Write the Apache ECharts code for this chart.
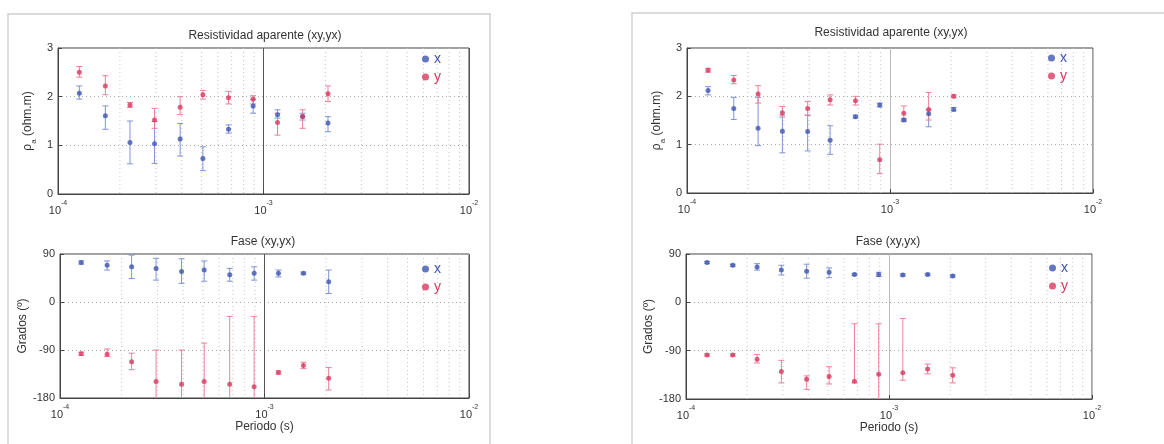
<!DOCTYPE html>
<html>
<head>
<meta charset="utf-8">
<script src="https://cdn.jsdelivr.net/npm/echarts@6/dist/echarts.min.js"></script>
<style>html,body{margin:0;padding:0;background:#fff}#c{width:1164px;height:444px}</style>
</head>
<body>
<div id="c"></div>
<script>
// ---- data ----
const periods = [1.27e-4, 1.70e-4, 2.24e-4, 2.95e-4, 3.93e-4, 5.07e-4, 6.76e-4, 8.9e-4, 1.17e-3, 1.55e-3, 2.06e-3];
const minorGrid = [2e-4,3e-4,4e-4,5e-4,6e-4,7e-4,8e-4,9e-4,2e-3,3e-3,4e-3,5e-3,6e-3,7e-3,8e-3,9e-3];
const rhoTicks = [0, 1, 2, 3];
const phaseTicks = [-180, -90, 0, 90];

// Left station: apparent resistivity
const rhoXL = [2.07, 1.61, 1.06, 1.03, 1.13, 0.73, 1.33, 1.81, 1.63, 1.59, 1.46];
const rhoXLerr = [[1.95,2.22],[1.33,1.81],[0.62,1.50],[0.63,1.49],[0.78,1.45],[0.48,0.97],[1.25,1.42],[1.66,1.94],[1.56,1.73],[1.52,1.66],[1.28,1.59]];
const rhoYL = [2.50, 2.22, 1.83, 1.52, 1.78, 2.04, 1.98, 1.95, 1.47, 1.59, 2.06];
const rhoYLerr = [[2.40,2.62],[2.04,2.43],[1.78,1.88],[1.35,1.76],[1.63,2.00],[1.95,2.13],[1.85,2.11],[1.85,2.02],[1.21,1.66],[1.35,1.73],[1.90,2.22]];
// Right station: apparent resistivity
const rhoXR = [2.12, 1.75, 1.34, 1.28, 1.27, 1.09, 1.58, 1.82, 1.51, 1.64, 1.73];
const rhoXRerr = [[2.03,2.20],[1.52,1.98],[0.98,1.98],[0.83,1.61],[0.87,1.61],[0.80,1.39],[1.55,1.61],[1.78,1.86],[1.48,1.54],[1.37,1.72],[1.70,1.77]];
const rhoYR = [2.54, 2.34, 2.05, 1.66, 1.75, 1.93, 1.91, 0.69, 1.65, 1.73, 2.00];
const rhoYRerr = [[2.50,2.58],[2.26,2.43],[1.86,2.22],[1.57,1.79],[1.61,1.89],[1.82,2.03],[1.82,2.00],[0.40,1.01],[1.51,1.80],[1.51,2.08],[1.97,2.03]];
// Left station: phase
const phXL = [74, 69, 66, 63, 57, 60, 51, 54, 54, 54, 38];
const phXLerr = [[71,77],[60,77],[44,88],[41,82],[35,81],[39,77],[39,63],[41,66],[47,60],[52,56],[16,60]];
const phYL = [-97, -98, -112, -149, -154, -149, -154, -159, -132, -119, -143];
const phYLerr = [[-100,-94],[-102,-88],[-127,-96],[-185,-90],[-185,-90],[-185,-77],[-185,-27],[-185,-27],[-135,-129],[-125,-113],[-165,-123]];
// Right station: phase
const phXR = [74, 69, 66, 60, 58, 56, 52, 52, 51, 52, 49];
const phXRerr = [[72,76],[67,71],[60,72],[51,69],[45,71],[46,64],[50,54],[48,56],[49,53],[50,54],[47,51]];
const phYR = [-98, -98, -106, -129, -143, -138, -147, -134, -131, -124, -136];
const phYRerr = [[-100,-96],[-100,-96],[-113,-97],[-150,-108],[-162,-137],[-152,-120],[-150,-40],[-185,-40],[-145,-30],[-133,-115],[-150,-122]];

// ---- styling ----
const FONT = '"Liberation Sans", Arial, sans-serif';
const BLUE = '#3d55b0', RED = '#d9375f';
const BLUE_E = '#7f93d6', RED_E = '#ec7f98';

const panels = [
  {left:58,  top:48,  width:411, height:146, x:rhoXL, xe:rhoXLerr, y:rhoYL, ye:rhoYLerr, kind:'rho', split:'#555', title:'Resistividad aparente (xy,yx)', tx:265, ty:30, lx:422, ly:52},
  {left:687, top:48,  width:406, height:145, x:rhoXR, xe:rhoXRerr, y:rhoYR, ye:rhoYRerr, kind:'rho', split:'#bbb', title:'Resistividad aparente (xy,yx)', tx:891, ty:27, lx:1048, ly:51},
  {left:60,  top:254, width:409, height:144, x:phXL, xe:phXLerr, y:phYL, ye:phYLerr, kind:'ph', split:'#555', title:'Fase (xy,yx)', tx:263, ty:236, lx:422, ly:262},
  {left:686, top:254, width:406, height:145, x:phXR, xe:phXRerr, y:phYR, ye:phYRerr, kind:'ph', split:'#bbb', title:'Fase (xy,yx)', tx:888, ty:236, lx:1049, ly:261}
];

function errRenderer(color) {
  return function (params, api) {
    const x = api.value(0), lo = api.value(1), hi = api.value(2);
    const a = api.coord([x, hi]), b = api.coord([x, lo]);
    const w = 3;
    const st = {stroke: color, lineWidth: 1};
    return {type:'group', children:[
      {type:'line', shape:{x1:a[0], y1:a[1], x2:b[0], y2:b[1]}, style:st},
      {type:'line', shape:{x1:a[0]-w, y1:a[1], x2:a[0]+w, y2:a[1]}, style:st},
      {type:'line', shape:{x1:b[0]-w, y1:b[1], x2:b[0]+w, y2:b[1]}, style:st}
    ]};
  };
}

function minorRenderer(ymin, ymax) {
  return function (params, api) {
    const v = api.value(0);
    const a = api.coord([v, ymax]), b = api.coord([v, ymin]);
    return {type:'line', shape:{x1:a[0], y1:a[1], x2:b[0], y2:b[1]},
      style:{stroke:'#c4c4c4', lineWidth:1, lineDash:[1,3]}};
  };
}

const grids = [], xAxes = [], yAxes = [], series = [], legends = [], graphics = [];

// panel frames (scanned figure borders)
graphics.push({type:'rect', shape:{x:8, y:14, width:482, height:440}, style:{fill:'none', stroke:'#cfcfcf', lineWidth:1.5}, silent:true});
graphics.push({type:'rect', shape:{x:632, y:13, width:540, height:440}, style:{fill:'none', stroke:'#cfcfcf', lineWidth:1.5}, silent:true});

panels.forEach((p, i) => {
  grids.push({left:p.left, top:p.top, width:p.width, height:p.height, show:true, borderColor:'#444', borderWidth:1});
  const isBottom = p.kind === 'ph';
  xAxes.push({
    type:'log', logBase:10, min:1e-4, max:1e-2, gridIndex:i,
    axisLine:{show:true, onZero:false, lineStyle:{color:'#444'}},
    axisTick:{show:true, inside:true, length:4, lineStyle:{color:'#444'}},
    splitLine:{show:true, lineStyle:{color:p.split, type:'solid', width:1}},
    axisLabel:{
      margin:6, color:'#333', fontFamily:FONT,
      formatter: v => '{b|10}{s|' + Math.round(Math.log10(v)) + '}',
      rich:{b:{fontSize:11, lineHeight:16, verticalAlign:'bottom', fontFamily:FONT, color:'#333'},
            s:{fontSize:7, lineHeight:16, verticalAlign:'top', fontFamily:FONT, color:'#333'}}
    },
    name: isBottom ? 'Periodo (s)' : '',
    nameLocation:'middle', nameGap:20,
    nameTextStyle:{fontSize:12, color:'#333', fontFamily:FONT}
  });
  const ticks = p.kind === 'rho' ? rhoTicks : phaseTicks;
  const ymin = ticks[0], ymax = ticks[ticks.length-1];
  yAxes.push({
    type:'value', gridIndex:i,
    min: ymin, max: ymax, interval: ticks[1]-ticks[0],
    axisLine:{show:true, lineStyle:{color:'#444'}},
    axisTick:{show:true, inside:true, length:4, lineStyle:{color:'#444'}},
    splitLine:{show:true, lineStyle:{color:'#aaa', type:[1,3], width:1}},
    axisLabel:{fontSize:11, color:'#333', margin:5, fontFamily:FONT},
    name: p.kind === 'rho' ? '{r|ρ}{sub|a}{r| (ohm.m)}' : 'Grados (º)',
    nameLocation:'middle', nameGap: p.kind === 'rho' ? 20 : 24,
    nameTextStyle:{fontSize:12, color:'#333', fontFamily:FONT,
      rich:{r:{fontSize:12, color:'#333', fontFamily:FONT, lineHeight:16, verticalAlign:'top'},
            sub:{fontSize:8, color:'#333', fontFamily:FONT, lineHeight:16, verticalAlign:'bottom'}}}
  });
  // minor log grid lines
  series.push({
    type:'custom', name:'minor', xAxisIndex:i, yAxisIndex:i, silent:true, z:1,
    renderItem: minorRenderer(ymin, ymax), encode:{x:0},
    data: minorGrid.map(v => [v])
  });
  series.push({
    type:'custom', name:'xErr', xAxisIndex:i, yAxisIndex:i, clip:true, silent:true,
    renderItem: errRenderer(BLUE_E), encode:{x:0, y:[1,2]},
    data: periods.map((t,k) => [t, p.xe[k][0], p.xe[k][1]]), z:3
  });
  series.push({
    type:'custom', name:'yErr', xAxisIndex:i, yAxisIndex:i, clip:true, silent:true,
    renderItem: errRenderer(RED_E), encode:{x:0, y:[1,2]},
    data: periods.map((t,k) => [t, p.ye[k][0], p.ye[k][1]]), z:3
  });
  series.push({
    type:'scatter', name:'x', xAxisIndex:i, yAxisIndex:i, symbol:'circle', symbolSize:5,
    itemStyle:{color:BLUE}, data: periods.map((t,k) => [t, p.x[k]]), z:4
  });
  series.push({
    type:'scatter', name:'y', xAxisIndex:i, yAxisIndex:i, symbol:'circle', symbolSize:5,
    itemStyle:{color:RED}, data: periods.map((t,k) => [t, p.y[k]]), z:4
  });
  legends.push({
    left:p.lx, top:p.ly, orient:'vertical', icon:'circle', itemWidth:7, itemHeight:7, itemGap:4,
    selectedMode:false, padding:0,
    textStyle:{fontSize:14, fontFamily:FONT},
    data:[{name:'x', textStyle:{color:BLUE}}, {name:'y', textStyle:{color:RED}}]
  });
  graphics.push({type:'text', x:p.tx, y:p.ty, silent:true,
    style:{text:p.title, align:'center', textAlign:'center', verticalAlign:'top', fontSize:12, fill:'#333', fontFamily:FONT}});
});

const chart = echarts.init(document.getElementById('c'), null, {renderer:'canvas'});
chart.setOption({
  backgroundColor:'#fff', animation:false,
  grid:grids, xAxis:xAxes, yAxis:yAxes, series:series, legend:legends, graphic:graphics
});
</script>
</body>
</html>
